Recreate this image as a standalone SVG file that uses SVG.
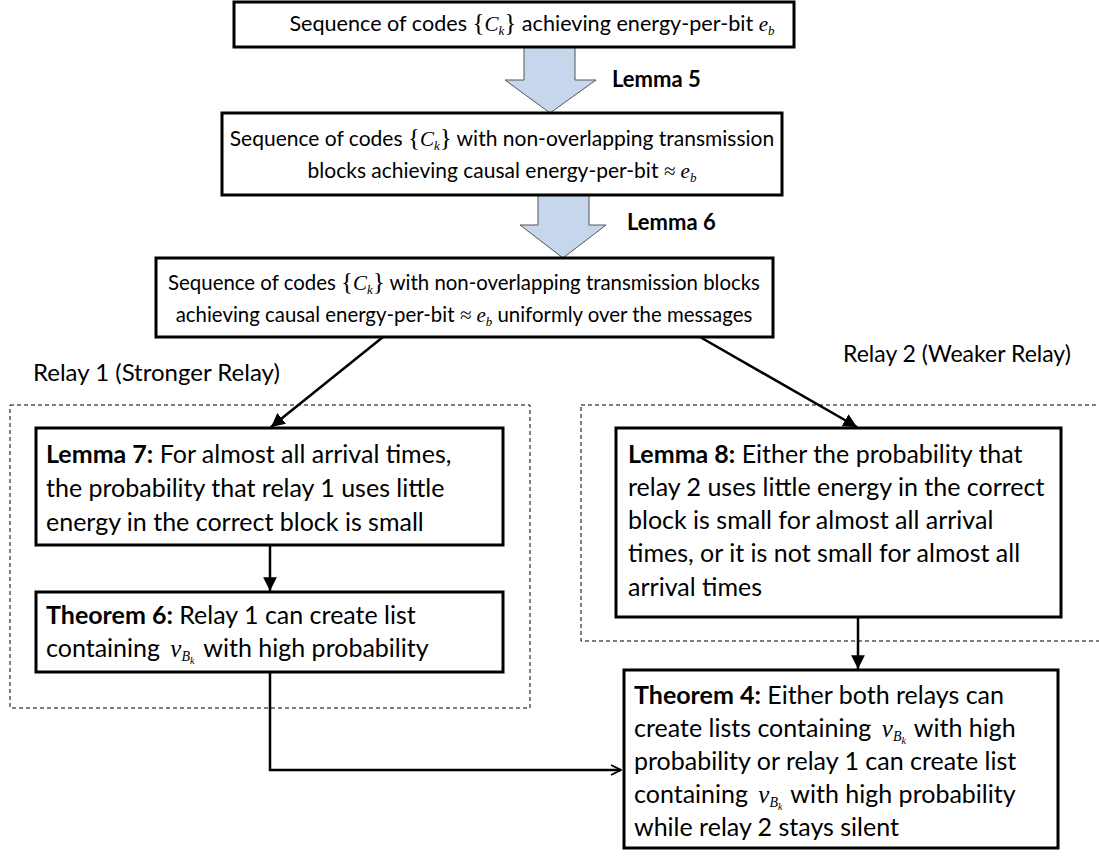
<svg xmlns="http://www.w3.org/2000/svg" width="1099" height="861" viewBox="0 0 1099 861">
<defs>
<style>
.box{fill:#fff;stroke:#000;stroke-width:3}
.dash{fill:none;stroke:#000;stroke-width:1;stroke-dasharray:4,3}
.blk{fill:#c6d6ec;stroke:#555;stroke-width:1}
.t{font-family:Lato,"Open Sans",sans-serif;font-size:21px;fill:#000}
.L{font-size:25px}
.t3{font-size:20.4px}
.b{font-weight:bold}
.m{font-family:"Liberation Serif",serif;font-size:25px}
.mi{font-family:"Liberation Serif",serif;font-style:italic;font-size:21px}
.s{font-family:"Liberation Serif",serif;font-style:italic;font-size:13px}
.nu{font-family:"Liberation Serif",serif;font-style:italic;font-size:25px}
.sb{font-family:"Liberation Serif",serif;font-style:italic;font-size:14px}
.sk{font-family:"Liberation Serif",serif;font-style:italic;font-size:10px}
.con{fill:none;stroke:#000;stroke-width:2.5}
</style>
<marker id="ah" viewBox="0 0 10 10" refX="10" refY="5" markerWidth="5.5" markerHeight="5.5" markerUnits="strokeWidth" orient="auto">
<path d="M0,0 L10,5 L0,10 z" fill="#000"/>
</marker>
<marker id="oh" viewBox="0 0 10 10" refX="9" refY="5" markerWidth="5" markerHeight="5" markerUnits="strokeWidth" orient="auto">
<path d="M1,1 L9,5 L1,9" fill="none" stroke="#000" stroke-width="1.5"/>
</marker>
</defs>
<rect width="1099" height="861" fill="#fff"/>

<g id="groups">
<rect class="dash" x="10" y="405" width="520" height="303"/>
<rect class="dash" x="581" y="405" width="530" height="236"/>
<text class="t" x="33" y="381" style="font-size:24px">Relay 1 (Stronger Relay)</text>
<text class="t" x="843" y="362" style="font-size:23px">Relay 2 (Weaker Relay)</text>
</g>

<g id="connectors">
<polygon class="blk" points="524,47 575,47 575,80 596,80 550,113 505,80 524,80"/>
<polygon class="blk" points="538,195 589,195 589,225 606,225 563,258 520,225 538,225"/>
<text class="t b" x="612" y="87" style="font-size:22px">Lemma 5</text>
<text class="t b" x="627" y="230" style="font-size:22px">Lemma 6</text>
<line class="con" x1="383" y1="337" x2="271" y2="427" marker-end="url(#ah)"/>
<line class="con" x1="700" y1="337" x2="857" y2="427" marker-end="url(#ah)"/>
<line class="con" x1="270" y1="545" x2="270" y2="591" marker-end="url(#ah)"/>
<line class="con" x1="858" y1="617" x2="858" y2="669" marker-end="url(#ah)"/>
<polyline class="con" points="270,672 270,770 621,770" marker-end="url(#oh)"/>
</g>

<g id="n1">
<rect class="box" x="234" y="2" width="560" height="45"/>
<text class="t" x="532" y="31" text-anchor="middle" style="font-size:21.6px">Sequence of codes <tspan class="m">{</tspan><tspan class="mi">C</tspan><tspan class="s" dy="4">k</tspan><tspan class="m" dy="-4">}</tspan> achieving energy-per-bit <tspan class="mi">e</tspan><tspan class="s" dy="4">b</tspan></text>
</g>

<g id="n2">
<rect class="box" x="222" y="113" width="560" height="82"/>
<text class="t" x="502" y="146" text-anchor="middle">Sequence of codes <tspan class="m">{</tspan><tspan class="mi">C</tspan><tspan class="s" dy="4">k</tspan><tspan class="m" dy="-4">}</tspan> with non-overlapping transmission</text>
<text class="t" x="502" y="178" text-anchor="middle">blocks achieving causal energy-per-bit <tspan class="mi">≈ e</tspan><tspan class="s" dy="4">b</tspan></text>
</g>

<g id="n3">
<rect class="box" x="156" y="258" width="617" height="79"/>
<text class="t t3" x="464" y="290" text-anchor="middle">Sequence of codes <tspan class="m">{</tspan><tspan class="mi">C</tspan><tspan class="s" dy="4">k</tspan><tspan class="m" dy="-4">}</tspan> with non-overlapping transmission blocks</text>
<text class="t t3" x="464" y="322" text-anchor="middle">achieving causal energy-per-bit <tspan class="mi">≈ e</tspan><tspan class="s" dy="4">b</tspan><tspan dy="-4"> uniformly over the messages</tspan></text>
</g>

<g id="n4">
<rect class="box" x="36" y="428" width="467" height="117"/>
<text class="t L" x="46" y="463"><tspan class="b">Lemma 7:</tspan> For almost all arrival times,</text>
<text class="t L" x="46" y="497">the probability that relay 1 uses little</text>
<text class="t L" x="46" y="531">energy in the correct block is small</text>
</g>

<g id="n5">
<rect class="box" x="36" y="592" width="467" height="80"/>
<text class="t L" x="46" y="624"><tspan class="b">Theorem 6:</tspan> Relay 1 can create list</text>
<text class="t L" x="46" y="657">containing <tspan class="nu" dx="4">ν</tspan><tspan class="sb" dy="4">B</tspan><tspan class="sk" dy="3">k</tspan><tspan dy="-7" dx="3"> with high probability</tspan></text>
</g>

<g id="n6">
<rect class="box" x="616" y="428" width="445" height="189"/>
<text class="t L" x="628" y="463"><tspan class="b">Lemma 8:</tspan> Either the probability that</text>
<text class="t L" x="628" y="496">relay 2 uses little energy in the correct</text>
<text class="t L" x="628" y="529">block is small for almost all arrival</text>
<text class="t L" x="628" y="562">times, or it is not small for almost all</text>
<text class="t L" x="628" y="596">arrival times</text>
</g>

<g id="n7">
<rect class="box" x="624" y="670" width="434" height="178"/>
<text class="t L" x="634" y="704"><tspan class="b">Theorem 4:</tspan> Either both relays can</text>
<text class="t L" x="634" y="737">create lists containing <tspan class="nu" dx="4">ν</tspan><tspan class="sb" dy="4">B</tspan><tspan class="sk" dy="3">k</tspan><tspan dy="-7" dx="2"> with high</tspan></text>
<text class="t L" x="634" y="770">probability or relay 1 can create list</text>
<text class="t L" x="634" y="803">containing <tspan class="nu" dx="4">ν</tspan><tspan class="sb" dy="4">B</tspan><tspan class="sk" dy="3">k</tspan><tspan dy="-7" dx="2"> with high probability</tspan></text>
<text class="t L" x="634" y="836">while relay 2 stays silent</text>
</g>
</svg>
